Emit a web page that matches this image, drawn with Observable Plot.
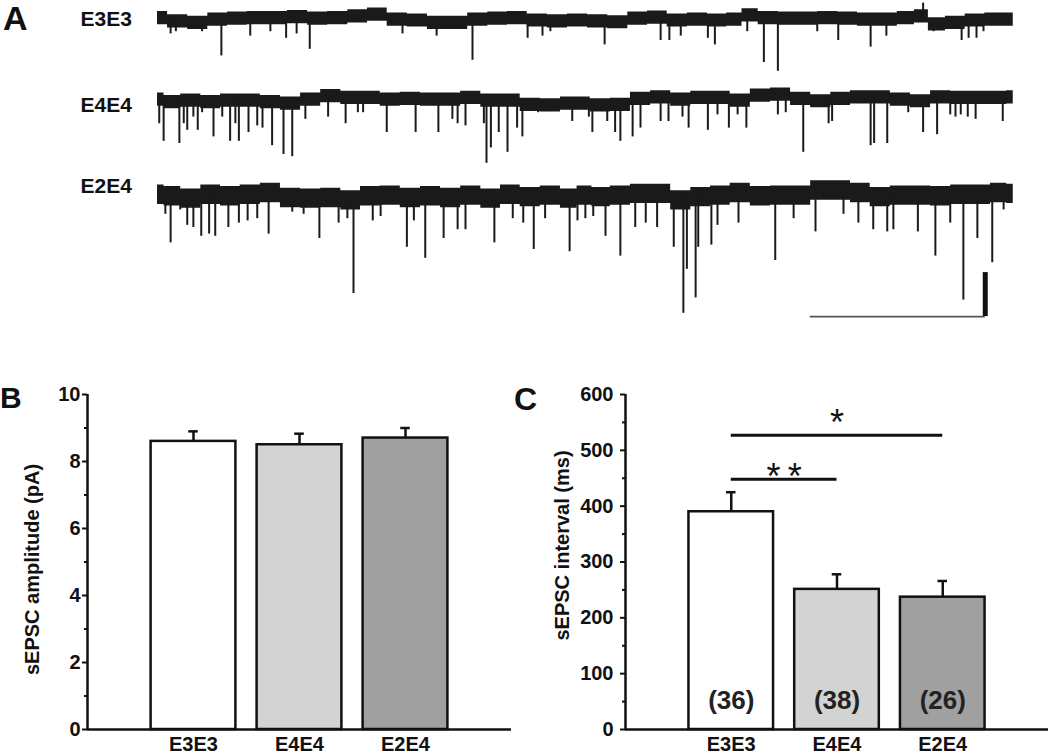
<!DOCTYPE html>
<html><head><meta charset="utf-8">
<script src="https://cdn.jsdelivr.net/npm/d3@7"></script>
<script src="https://cdn.jsdelivr.net/npm/@observablehq/plot@0.6"></script>
<style>
body{margin:0;background:#fff;font-family:"Liberation Sans",Arial,sans-serif;}
#fig{position:relative;width:1050px;height:754px;overflow:hidden;background:#fff;}
.panel{position:absolute;}
.letter{position:absolute;font-weight:bold;color:#111;line-height:1;z-index:5;font-family:"Liberation Sans",Arial,sans-serif;}
</style></head><body>
<div id="fig">
  <div class="panel" id="panelA" style="left:0;top:0"></div>
  <div class="panel" id="panelB" style="left:0;top:370px"></div>
  <div class="panel" id="panelC" style="left:530px;top:370px"></div>
  <div class="letter" style="left:3px;top:1px;font-size:34px">A</div>
  <div class="letter" style="left:0px;top:383px;font-size:30px">B</div>
  <div class="letter" style="left:514px;top:383px;font-size:32px">C</div>
</div>
<script>
// ---------- Data ----------
const traceNames = ["E3E3", "E4E4", "E2E4"];
// baseline drift: [time (s), current (pA)]
const e3e3Baseline = [[0,0.2],[0.23,-1.3],[0.46,-2],[0.69,-0.5],[0.91,-0.1],[1.14,0.2],[1.37,0.2],[1.6,0.6],[1.83,-0.1],[2.06,0.2],[2.29,1],[2.51,1.8],[2.74,-0.5],[2.97,-0.9],[3.2,-2],[3.43,-2],[3.66,-0.5],[3.89,-0.1],[4.11,0.2],[4.34,-0.9],[4.57,-1.3],[4.8,-0.9],[5.03,-1.3],[5.26,-1.7],[5.49,-0.1],[5.71,0.4],[5.94,-0.9],[6.17,-0.5],[6.4,-0.9],[6.61,-0.5],[6.75,1.4],[6.98,0.2],[7.21,-0.1],[7.43,-0.1],[7.66,0.2],[7.89,-0.1],[8.11,-0.5],[8.34,-0.5],[8.57,0.2],[8.73,1],[8.89,-2.7],[9.12,-2],[9.34,-0.9],[9.57,-0.5],[9.78,-0.5]];
const e4e4Baseline = [[0,-0.1],[0.15,-1.2],[0.38,-0.5],[0.61,-1.2],[0.83,-0.5],[1.06,-0.5],[1.29,-1.2],[1.52,-1.9],[1.75,-0.1],[1.98,1.5],[2.21,0.7],[2.43,0.7],[2.66,-0.1],[2.89,0.3],[3.12,-0.1],[3.35,-0.1],[3.58,0.7],[3.81,-0.5],[4.03,-0.5],[4.26,-2.4],[4.49,-2.7],[4.72,-1.9],[4.83,-1.9],[5.06,-2.7],[5.29,-2.4],[5.52,0.3],[5.75,1],[5.98,-0.1],[6.21,0.7],[6.43,0.7],[6.66,-0.5],[6.89,1.8],[7.12,2.2],[7.35,0.3],[7.58,-0.8],[7.81,0.3],[8.03,1],[8.26,1],[8.49,-0.1],[8.72,-0.8],[8.95,1],[9.18,0.7],[9.41,0.7],[9.63,0.7],[9.78,1]];
const e2e4Baseline = [[0,-0.1],[0.15,-0.8],[0.38,-1.9],[0.61,-0.1],[0.83,-0.8],[1.06,-0.1],[1.29,0.7],[1.52,-1.6],[1.75,-1.9],[1.98,-1.6],[2.21,-2.7],[2.43,-0.8],[2.66,-0.5],[2.89,-1.6],[3.12,-0.8],[3.35,-1.6],[3.58,-0.5],[3.81,-1.9],[4.03,-0.1],[4.26,-1.2],[4.49,-0.5],[4.72,-1.9],[4.87,-0.5],[5.06,-1.2],[5.29,-0.5],[5.52,0.3],[5.75,0.3],[5.98,-2.7],[6.21,-1.2],[6.43,-0.5],[6.66,0.7],[6.89,-0.8],[7.12,-0.5],[7.35,-0.5],[7.58,1.8],[7.81,1.8],[8.03,0.7],[8.26,-1.2],[8.49,-0.5],[8.72,-0.5],[8.95,-0.8],[9.18,-0.1],[9.41,-0.1],[9.63,0.7],[9.78,0.3]];
// sEPSC events: [time (s), peak current (pA)]
const e3e3Events = [[0.15,-7],[0.21,-6],[0.51,-6],[0.73,-17],[1.06,-8],[1.29,-6],[1.47,-9],[1.59,-7],[1.74,-14],[2.80,-7],[3.19,-8],[3.60,-19],[4.23,-9],[4.40,-8],[4.49,-6],[5.11,-12],[5.75,-10],[5.85,-10],[5.98,-8],[6.29,-9],[6.37,-12],[6.74,-6],[6.93,-20],[7.09,-24],[7.54,-6],[7.78,-10],[8.15,-13],[8.33,-8],[8.75,7],[8.87,-6],[9.19,-10],[9.27,-9],[9.36,-9],[9.44,-6]];
const e4e4Events = [[0.02,-11],[0.07,-19],[0.25,-20],[0.30,-11],[0.34,-14],[0.41,-8],[0.46,-14],[0.51,-6],[0.64,-17],[0.74,-8],[0.83,-19],[0.89,-11],[0.93,-19],[1.04,-15],[1.14,-12],[1.20,-13],[1.31,-21],[1.44,-25],[1.54,-26],[1.69,-9],[1.95,-8],[2.15,-11],[2.29,-6],[2.35,-6],[2.62,-15],[2.95,-15],[3.21,-15],[3.37,-9],[3.43,-11],[3.52,-12],[3.73,-11],[3.76,-29],[3.81,-22],[3.90,-15],[4.00,-24],[4.11,-13],[4.17,-17],[4.35,-6],[4.74,-10],[4.93,-8],[4.97,-15],[5.14,-10],[5.23,-15],[5.29,-19],[5.43,-17],[5.52,-13],[5.75,-10],[5.84,-10],[6.00,-8],[6.07,-13],[6.29,-14],[6.40,-7],[6.53,-13],[6.63,-7],[6.73,-13],[7.09,-7],[7.18,-6],[7.38,-24],[7.67,-11],[7.71,-10],[8.15,-21],[8.19,-20],[8.34,-20],[8.58,-6],[8.75,-15],[8.91,-16],[9.06,-7],[9.12,-8],[9.18,-7],[9.26,-8],[9.35,-9],[9.66,-10]];
const e2e4Events = [[0.09,-9],[0.15,-22],[0.26,-7],[0.34,-14],[0.41,-15],[0.50,-19],[0.59,-18],[0.66,-19],[0.81,-15],[0.93,-13],[1.03,-12],[1.14,-11],[1.27,-18],[1.54,-8],[1.67,-9],[1.85,-20],[2.07,-13],[2.17,-11],[2.24,-45],[2.46,-12],[2.55,-10],[2.85,-24],[2.93,-12],[3.06,-29],[3.27,-20],[3.43,-16],[3.52,-16],[3.85,-22],[4.06,-11],[4.18,-13],[4.30,-25],[4.43,-11],[4.71,-26],[4.80,-12],[4.89,-11],[4.98,-10],[5.12,-19],[5.29,-28],[5.46,-15],[5.58,-13],[5.71,-15],[5.90,-24],[6.01,-54],[6.05,-34],[6.15,-47],[6.18,-24],[6.33,-23],[6.40,-14],[6.64,-13],[7.06,-30],[7.27,-11],[7.52,-17],[7.84,-9],[8.01,-13],[8.18,-16],[8.34,-17],[8.41,-16],[8.69,-17],[8.89,-28],[9.06,-13],[9.21,-48],[9.37,-20],[9.54,-31],[9.67,-7]];
const scaleBarTime = 2;   // s
const scaleBarAmp = 20;   // pA

const groups = ["E3E3", "E4E4", "E2E4"];
const amplitudeMean = [8.6, 8.5, 8.7];
const amplitudeSem = [0.3, 0.33, 0.3];
const intervalMean = [390, 251, 237];
const intervalSem = [35, 27, 29];
const cellCounts = [36, 38, 26];
const significance = [
  {a: "E3E3", b: "E4E4", level: 448, labelLevel: 470, label: "*\u2009*"},
  {a: "E3E3", b: "E2E4", level: 527, labelLevel: 566, label: "*"}
];

// ---------- Styles / layout ----------
const FONT = "'Liberation Sans', Arial, Helvetica, sans-serif";
const INK = "#1a1a1a";
const barFills = ["#ffffff", "#d3d3d3", "#a0a0a0"];

// ---------- Panel A ----------
const pxPerSec = 87.5, pxPerPA = 2.2, traceLeft = 157, ref0 = 18;
const offsets = [0, -(99 - ref0) / pxPerPA, -(194 - ref0) / pxPerPA];
const noise = [3, 3, 4.4];
const baselines = [e3e3Baseline, e4e4Baseline, e2e4Baseline];
const events = [e3e3Events, e4e4Events, e2e4Events];
const labelLevels = [-0.2, -(105 - ref0) / pxPerPA, -(186 - ref0) / pxPerPA];

const marksA = [];
traceNames.forEach((name, i) => {
  const o = offsets[i], n = noise[i];
  marksA.push(Plot.areaY(baselines[i], {x: d => d[0], y1: d => d[1] + o - n, y2: d => d[1] + o + n, fill: INK, curve: "step"}));
  marksA.push(Plot.ruleX(events[i], {x: d => d[0], y1: o, y2: d => d[1] + o, stroke: INK, strokeWidth: 2}));
  marksA.push(Plot.text([name], {x: -77 / pxPerSec, y: labelLevels[i], text: d => d, textAnchor: "start", fontSize: 21, fontWeight: "bold", fill: "#111"}));
});
// scale bar (placed under the E2E4 trace)
const sbT = 7.46, sbY = offsets[2] - 55.5;
marksA.push(Plot.ruleY([sbY], {x1: sbT, x2: sbT + scaleBarTime, stroke: "#555", strokeWidth: 1.6}));
marksA.push(Plot.ruleX([sbT + scaleBarTime], {y1: sbY, y2: sbY + scaleBarAmp, stroke: "#111", strokeWidth: 5}));

const plotA = Plot.plot({
  width: 1050, height: 330, margin: 0,
  x: {domain: [-traceLeft / pxPerSec, (1050 - traceLeft) / pxPerSec], axis: null},
  y: {domain: [-(330 - ref0) / pxPerPA, ref0 / pxPerPA], axis: null},
  style: {fontFamily: FONT, background: "transparent"},
  marks: marksA
});
document.getElementById("panelA").appendChild(plotA);

// ---------- Panels B and C ----------
function barPanel({means, sems, yDomain, yMajor, yMinor, marginLeft, marginRight, tickPad, yLabel, labelDx, labelDy, extra}) {
  const data = groups.map((g, i) => ({group: g, pos: i + 1, mean: means[i], sem: sems[i], fill: barFills[i], n: cellCounts[i]}));
  return Plot.plot({
    width: 520, height: 384, marginLeft, marginRight, marginTop: 24, marginBottom: 25,
    x: {domain: [0, 4], axis: null},
    y: {domain: yDomain, axis: null},
    color: {type: "identity"},
    style: {fontFamily: FONT, fontSize: "20px", fontWeight: "bold", color: "#111", background: "transparent", overflow: "visible"},
    marks: [
      Plot.rectY(data, {x1: d => d.pos - 0.4, x2: d => d.pos + 0.4, y1: 0, y2: "mean", fill: d => d.fill, stroke: "#111", strokeWidth: 2.5}),
      Plot.ruleX(data, {x: "pos", y1: "mean", y2: d => d.mean + d.sem, stroke: "#111", strokeWidth: 2.5}),
      Plot.ruleY(data, {y: d => d.mean + d.sem, x1: d => d.pos - 0.045, x2: d => d.pos + 0.045, stroke: "#111", strokeWidth: 2.5}),
      Plot.axisY({ticks: yMinor, tickSize: 3, tickFormat: () => "", strokeWidth: 2, label: null}),
      Plot.axisY({ticks: yMajor, tickSize: 5, tickPadding: tickPad, strokeWidth: 2, fontSize: 20, fontWeight: "bold", label: null}),
      Plot.axisX({ticks: [1, 2, 3], tickFormat: i => groups[i - 1], tickSize: 0, tickPadding: 7, fontSize: 20, fontWeight: "bold", label: null}),
      Plot.ruleX([0], {stroke: "#111", strokeWidth: 2.5}),
      Plot.ruleY([0], {stroke: "#111", strokeWidth: 2.5}),
      Plot.text([yLabel], {frameAnchor: "left", rotate: -90, textAnchor: "middle", lineAnchor: "middle", dx: labelDx, dy: labelDy, text: d => d, fontSize: 20, fontWeight: "bold", fill: "#111"}),
      ...(extra ? extra(data) : [])
    ]
  });
}

const plotB = barPanel({
  means: amplitudeMean, sems: amplitudeSem, yDomain: [0, 10],
  yMajor: [0, 2, 4, 6, 8, 10], yMinor: [1, 3, 5, 7, 9],
  marginLeft: 87, marginRight: 9, tickPad: 2,
  yLabel: "sEPSC amplitude (pA)", labelDx: -54.5, labelDy: 7.5
});
document.getElementById("panelB").appendChild(plotB);

const posOf = g => groups.indexOf(g) + 1;
const plotC = barPanel({
  means: intervalMean, sems: intervalSem, yDomain: [0, 600],
  yMajor: [0, 100, 200, 300, 400, 500, 600], yMinor: [50, 150, 250, 350, 450, 550],
  marginLeft: 95, marginRight: 2, tickPad: 7,
  yLabel: "sEPSC interval (ms)", labelDx: -62.5, labelDy: -16.5,
  extra: data => [
    Plot.text(data, {x: "pos", y: 52, text: d => `(${d.n})`, fontSize: 26, fontWeight: "bold", fill: "#222"}),
    Plot.ruleY(significance, {y: "level", x1: d => posOf(d.a), x2: d => posOf(d.b), stroke: "#111", strokeWidth: 3}),
    Plot.text(significance, {x: d => (posOf(d.a) + posOf(d.b)) / 2, y: "labelLevel", text: "label", fontSize: 36, fontWeight: "normal", dy: 10, fill: "#111"})
  ]
});
document.getElementById("panelC").appendChild(plotC);
</script>
</body></html>
